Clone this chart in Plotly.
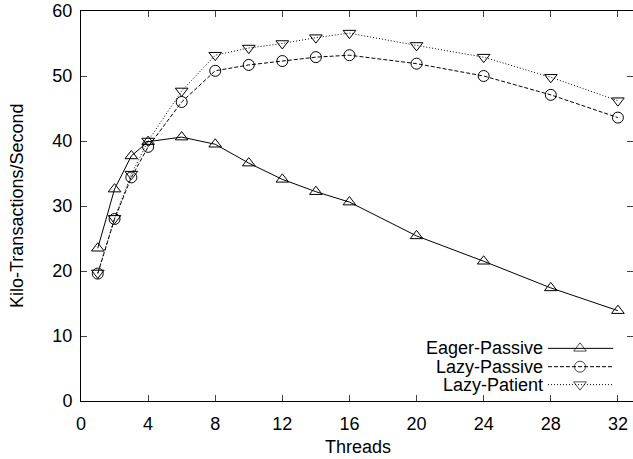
import plotly.graph_objects as go

threads = [1, 2, 3, 4, 6, 8, 10, 12, 14, 16, 20, 24, 28, 32]
eager_passive = [23.5, 32.6, 37.7, 39.9, 40.6, 39.5, 36.6, 34.1, 32.2, 30.6, 25.4, 21.5, 17.4, 13.9]
lazy_passive = [19.6, 28.0, 34.4, 39.1, 46.0, 50.8, 51.7, 52.3, 52.9, 53.2, 51.9, 50.0, 47.1, 43.6]
lazy_patient = [19.7, 28.1, 34.9, 40.0, 47.7, 53.2, 54.3, 55.0, 55.9, 56.6, 54.7, 52.9, 49.8, 46.2]

x_ticks = [0, 4, 8, 12, 16, 20, 24, 28, 32]
y_ticks = [0, 10, 20, 30, 40, 50, 60]

series = [
    ("Eager-Passive", eager_passive, "triangle-up-open", "solid"),
    ("Lazy-Passive", lazy_passive, "circle-open", "4px,2px"),
    ("Lazy-Patient", lazy_patient, "triangle-down-open", "1px,2px"),
]

FONT = "Liberation Sans, Arial, Helvetica, sans-serif"
FS = 18
fig = go.Figure()

for name, vals, sym, dash in series:
    fig.add_trace(go.Scatter(
        x=threads, y=vals, mode="lines+markers", name=name,
        line=dict(color="black", width=1, dash=dash),
        marker=dict(symbol=sym, size=11, color="black", line=dict(width=1, color="black")),
        showlegend=False,
    ))

# manual gnuplot-style legend (text left, sample right)
leg_rows = [0.135, 0.088, 0.042]
for (name, vals, sym, dash), ry in zip(series, leg_rows):
    fig.add_trace(go.Scatter(
        x=[0.846, 0.904, 0.964], y=[ry, ry, ry], xaxis="x2", yaxis="y3",
        mode="lines+markers",
        line=dict(color="black", width=1, dash=dash),
        marker=dict(symbol=sym, size=[0, 11, 0], color="black", line=dict(width=1, color="black")),
        showlegend=False, hoverinfo="skip",
    ))
    fig.add_annotation(x=0.840, y=ry, xref="paper", yref="paper", text=name,
                       showarrow=False, xanchor="right", yanchor="middle",
                       font=dict(family=FONT, size=FS, color="black"))

# axis titles
fig.add_annotation(x=0.5025, y=-0.118, xref="paper", yref="paper", text="Threads",
                   showarrow=False, xanchor="center", yanchor="middle",
                   font=dict(family=FONT, size=FS, color="black"))
fig.add_annotation(x=-0.116, y=0.5, xref="paper", yref="paper", text="Kilo-Transactions/Second",
                   showarrow=False, xanchor="center", yanchor="middle", textangle=-90,
                   font=dict(family=FONT, size=FS, color="black"))

fig.update_layout(
    width=633, height=459,
    margin=dict(l=81, r=0, t=11, b=58, autoexpand=False),
    plot_bgcolor="white", paper_bgcolor="white",
    font=dict(family=FONT, size=FS, color="black"),
    xaxis=dict(range=[0, 32.9], tickvals=x_ticks, ticks="inside", ticklen=6,
               showline=True, linecolor="black", linewidth=1, mirror="ticks",
               showgrid=False, zeroline=False, automargin=False,
               ticklabelstandoff=6),
    yaxis=dict(range=[0, 60], tickvals=y_ticks, ticks="inside", ticklen=6,
               showline=True, linecolor="black", linewidth=1, mirror=False,
               showgrid=False, zeroline=False, automargin=False,
               ticklabelstandoff=4),
    yaxis2=dict(range=[0, 60], tickvals=y_ticks, ticks="inside", ticklen=6,
                overlaying="y", side="right", showticklabels=False, automargin=False,
                showline=False, showgrid=False, zeroline=False),
    xaxis2=dict(range=[0, 1], overlaying="x", visible=False, automargin=False),
    yaxis3=dict(range=[0, 1], overlaying="y", visible=False, automargin=False),
)
# dummy trace so the right-hand tick axis is drawn
fig.add_trace(go.Scatter(x=[None], y=[None], yaxis="y2", showlegend=False, hoverinfo="skip"))

fig.write_html("out.html", config={"displayModeBar": False},
               post_script="document.body.style.margin='0';document.body.style.overflow='hidden';")
